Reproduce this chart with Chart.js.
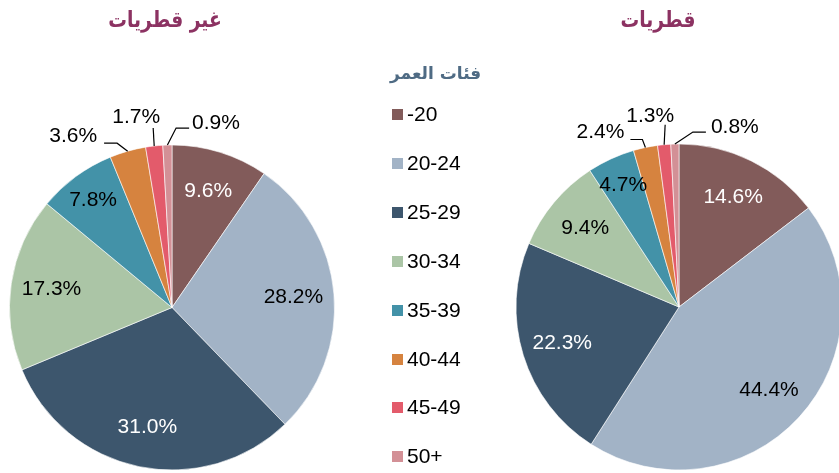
<!DOCTYPE html>
<html>
<head>
<meta charset="utf-8">
<script src="https://cdn.jsdelivr.net/npm/chart.js@4.4.1/dist/chart.umd.min.js"></script>
<style>
  html, body { margin:0; padding:0; background:#fff; overflow:hidden; }
  #wrap { position:relative; width:839px; height:473px; overflow:hidden; background:#fff; }
  canvas { position:absolute; top:0; }
  .ttl { position:absolute; top:7px; font-family:"DejaVu Sans", sans-serif; font-weight:bold; font-size:22px; color:#8c3262; white-space:nowrap; transform:translateX(-50%) scaleX(0.85); direction:rtl; }
  #legTitle { position:absolute; left:390px; top:63px; font-family:"DejaVu Sans", sans-serif; font-weight:bold; font-size:17px; color:#4f6b84; direction:rtl; white-space:nowrap; }
  .leg { position:absolute; left:392px; font-family:"Liberation Sans", Arial, sans-serif; font-size:21px; color:#000; white-space:nowrap; height:24px; line-height:24px; }
  .leg i { display:inline-block; width:11px; height:11px; margin-right:4px; vertical-align:1px; }
</style>
</head>
<body>
<div id="wrap">
  <canvas id="left" width="400" height="473" style="left:0px"></canvas>
  <canvas id="right" width="450" height="473" style="left:400px"></canvas>
  <div class="ttl" id="tL" style="left:165px"></div>
  <div class="ttl" id="tR" style="left:658px"></div>
  <div id="legTitle"></div>
</div>
<script>
// ---- data ----
const categories = ['-20', '20-24', '25-29', '30-34', '35-39', '40-44', '45-49', '50+'];
const qatariValues = [14.6, 44.4, 22.3, 9.4, 4.7, 2.4, 1.3, 0.8];
const nonQatariValues = [9.6, 28.2, 31.0, 17.3, 7.8, 3.6, 1.7, 0.9];
const qatariTitle = 'قطريات';
const nonQatariTitle = 'غير قطريات';
const legendTitle = 'فئات العمر';
const sliceColors = ['#825b5a', '#a2b3c6', '#3d566d', '#abc5a6', '#4392a8', '#d6833f', '#e35b6b', '#d39096'];
const labelColors = ['#ffffff', '#000000', '#ffffff', '#000000', '#000000', '#000000', '#000000', '#000000'];

document.getElementById('tL').textContent = nonQatariTitle;
document.getElementById('tR').textContent = qatariTitle;
document.getElementById('legTitle').textContent = legendTitle;
const wrap = document.getElementById('wrap');
categories.forEach((c, i) => {
  const d = document.createElement('div');
  d.className = 'leg';
  d.style.top = (102 + i * 48.9) + 'px';
  d.innerHTML = '<i style="background:' + sliceColors[i] + '"></i>';
  d.appendChild(document.createTextNode(c));
  wrap.appendChild(d);
});

// leader specs for small slices (offsets from the arc's outer mid point)
const leadersLeft = {
  5: {pts: [[-10.6, -8], [-23.6, -8]], text: [-30.6, -15], align: 'right'},
  6: {pts: [[-1, -18]], text: [-18, -29], align: 'center'},
  7: {pts: [[8.7, -17], [21.7, -17]], text: [24.7, -22], align: 'left'}
};
const leadersRight = {
  5: {pts: [[-3, -8], [-15, -8]], text: [-21, -15], align: 'right'},
  6: {pts: [[1, -20]], text: [-14, -28], align: 'center'},
  7: {pts: [[18, -12], [31, -12]], text: [36, -17], align: 'left'}
};

const labelPlugin = {
  id: 'pieLabels',
  afterDatasetsDraw(chart, args, opts) {
    const ctx = chart.ctx;
    const meta = chart.getDatasetMeta(0);
    const vals = chart.data.datasets[0].data;
    ctx.save();
    ctx.font = '21px "Liberation Sans", Arial, sans-serif';
    ctx.textBaseline = 'middle';
    meta.data.forEach((arc, i) => {
      const p = arc.getProps(['x', 'y', 'startAngle', 'endAngle', 'outerRadius'], true);
      const mid = (p.startAngle + p.endAngle) / 2;
      const txt = vals[i].toFixed(1) + '%';
      const lead = opts.leaders[i];
      if (lead) {
        const ax = p.x + Math.cos(mid) * p.outerRadius;
        const ay = p.y + Math.sin(mid) * p.outerRadius;
        ctx.strokeStyle = '#000';
        ctx.lineWidth = 1.2;
        ctx.beginPath();
        ctx.moveTo(ax, ay);
        lead.pts.forEach(q => ctx.lineTo(ax + q[0], ay + q[1]));
        ctx.stroke();
        ctx.fillStyle = '#000';
        ctx.textAlign = lead.align;
        ctx.fillText(txt, ax + lead.text[0], ay + lead.text[1]);
      } else {
        const frac = vals[i] < 9 ? 0.82 : 0.75;
        const r = p.outerRadius * frac;
        ctx.fillStyle = labelColors[i];
        ctx.textAlign = 'center';
        ctx.fillText(txt, p.x + Math.cos(mid) * r, p.y + Math.sin(mid) * r);
      }
    });
    ctx.restore();
  }
};

function makePie(id, values, padding, radius, leaders) {
  return new Chart(document.getElementById(id), {
    type: 'pie',
    data: {
      labels: categories,
      datasets: [{
        data: values,
        backgroundColor: sliceColors,
        borderColor: '#ffffff',
        borderWidth: 0.6
      }]
    },
    options: {
      responsive: false,
      animation: false,
      radius: radius,
      rotation: 0,
      layout: { padding: padding },
      plugins: {
        legend: { display: false },
        tooltip: { enabled: false },
        title: { display: false },
        pieLabels: { leaders: leaders }
      }
    },
    plugins: [labelPlugin]
  });
}

makePie('left', nonQatariValues, {left: 9.5, right: 65.5, top: 145, bottom: 3}, 162.5, leadersLeft);
makePie('right', qatariValues, {left: 116, right: 8, top: 144, bottom: 3}, 163, leadersRight);
</script>
</body>
</html>
